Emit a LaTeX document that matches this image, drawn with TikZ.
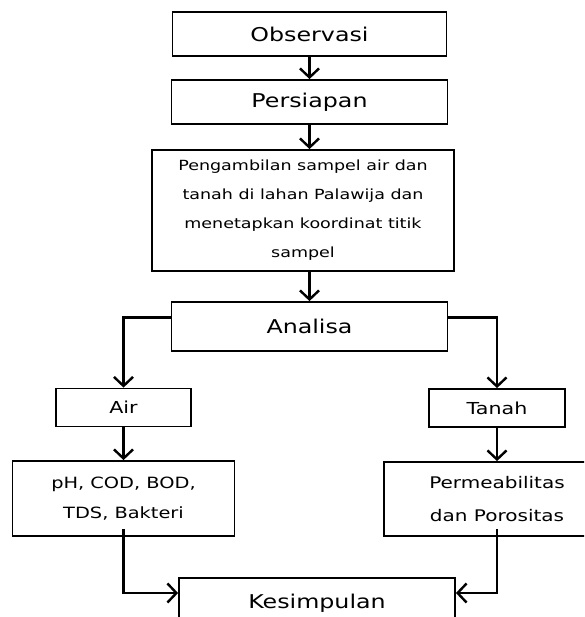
\documentclass[tikz,border=0pt]{standalone}
\usepackage{fontspec}
\setmainfont{DejaVu Sans}[FakeStretch=1.25]
\usetikzlibrary{arrows.meta}
\begin{document}
\begin{tikzpicture}
        [x=1pt,y=-1pt,
        box/.style={draw,line width=1.8pt,inner sep=0pt,align=center},
        big/.style={font=\fontsize{19}{23}\selectfont},
        arr/.style={line width=2.4pt,-{Straight Barb[length=9pt,width=19pt]}}]
        \useasboundingbox (0,0) rectangle (584,617);
        \clip (0,0) rectangle (584,617);

        \node[box,big,minimum width=274pt,minimum height=44pt] (obs) at (309.5,34) {Observasi};
        \node[box,big,minimum width=276pt,minimum height=44pt] (prs) at (309.5,102) {Persiapan};
        \node[box,minimum width=302pt,minimum height=121pt,font=\fontsize{14}{29}\selectfont] (ambil) at (303,210.5)
          {Pengambilan sampel air dan\\tanah di lahan Palawija dan\\menetapkan koordinat titik\\sampel};
        \node[box,big,minimum width=276pt,minimum height=49pt] (ana) at (309.5,326.5) {Analisa};

        \node[box,minimum width=135pt,minimum height=38pt,font=\fontsize{16.5}{20}\selectfont] (air) at (123.5,407.5) {Air};
        \node[box,minimum width=136pt,minimum height=38pt,font=\fontsize{16.5}{20}\selectfont] (tnh) at (497,408) {Tanah};
        \node[box,minimum width=222pt,minimum height=75pt,font=\fontsize{15.5}{30}\selectfont] (ph) at (123.5,498.5)
          {pH, COD, BOD,\\TDS, Bakteri};
        \node[box,minimum width=226pt,minimum height=74pt,font=\fontsize{16}{33}\selectfont] (prm) at (497,499)
          {Permeabilitas\\dan Porositas};
        \node[box,big,minimum width=276pt,minimum height=50pt] (kes) at (317,603) {Kesimpulan};

        \draw[arr] (obs) -- (prs);
        \draw[arr] (prs) -- (prs |- ambil.north);
        \draw[arr] (ambil.south -| ana.north) -- (ana.north);
        \draw[arr] ([yshift=9pt]ana.west) -| (air.north);
        \draw[arr] ([yshift=9pt]ana.east) -| (tnh.north);
        \draw[arr] (air) -- (ph);
        \draw[arr] (tnh) -- (prm);
        \draw[arr] ([yshift=8pt]ph.south) |- ([yshift=10pt]kes.west);
        \draw[arr] ([yshift=8pt]prm.south) |- ([yshift=10pt]kes.east);
      \end{tikzpicture}
\end{document}
